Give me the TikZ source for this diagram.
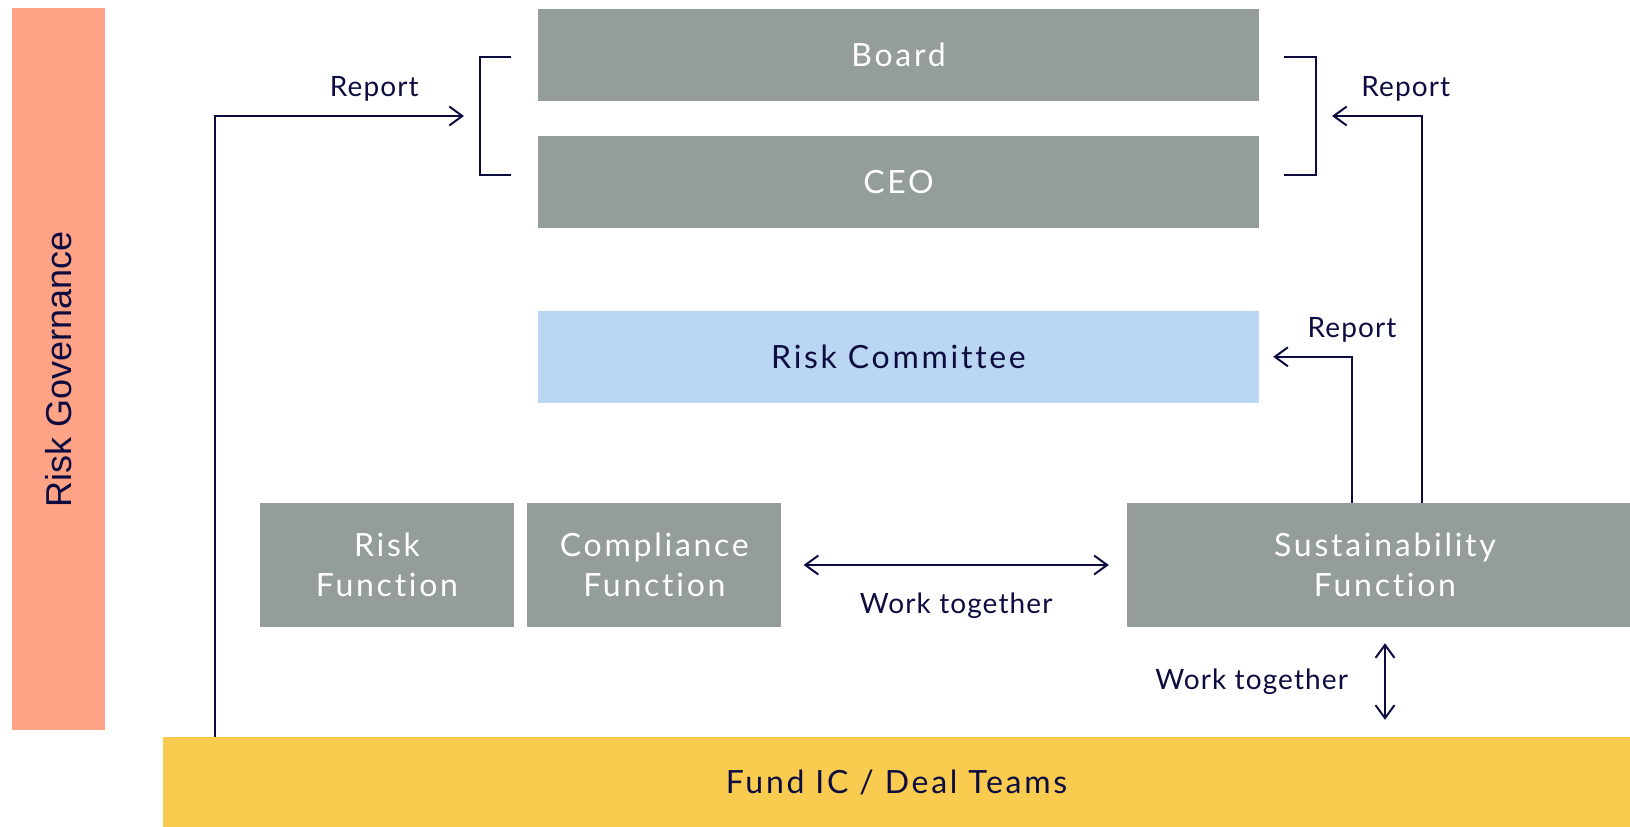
\documentclass[tikz,border=0pt]{standalone}
\usepackage{fontspec}
\setmainfont{Lato}
\newfontfamily\boxfont{Lato}[LetterSpace=8.5,Ligatures=CommonOff]
\newfontfamily\lblfont{Lato}[LetterSpace=4,Ligatures=CommonOff]
\newfontfamily\govfont{Liberation Sans}
\usetikzlibrary{arrows.meta,positioning}
\definecolor{boxgray}{HTML}{959D9A}
\definecolor{rcblue}{HTML}{BAD6F2}
\definecolor{govorange}{HTML}{FFA386}
\definecolor{fundyellow}{HTML}{F9CB4F}
\definecolor{navy}{HTML}{0C0C40}

\begin{document}
\begin{tikzpicture}[x=1pt, y=-1pt,
  every node/.style={font=\lblfont\fontsize{28}{32}\selectfont, text=navy},
  box/.style ={fill=boxgray, text=white, inner sep=0pt, align=center,
               minimum width=721pt, minimum height=92pt,
               font=\boxfont\fontsize{32}{39.5}\selectfont},
  fn/.style  ={box, minimum width=254pt, minimum height=124pt},
  rc/.style  ={box, fill=rcblue, text=navy},
  gov/.style ={fill=govorange, rotate=90, inner sep=0pt,
               minimum width=722pt, minimum height=93pt,
               font=\govfont\fontsize{36}{40}\selectfont},
  fund/.style={box, fill=fundyellow, text=navy, minimum width=1467pt, minimum height=90pt},
  ar/.style  ={-{Straight Barb[length=13pt,width=19pt]}, line width=2pt, draw=navy},
  dar/.style ={{Straight Barb[length=13pt,width=19pt]}-{Straight Barb[length=13pt,width=19pt]},
               line width=2pt, draw=navy},
  brk/.style ={line width=2pt, draw=navy},
  lbl/.style ={inner sep=0pt}
]
  \useasboundingbox (0,0) rectangle (1630,827);

  % side bar and the two stacked bodies
  \node[gov] (gov) at (58.5,369) {Risk Governance};
  \node[box] (board) at (898.5,54.5) {Board};
  \node[box, below=35.5pt of board] (ceo) {CEO};
  \node[rc, below=82pt of ceo] (riskcom) {Risk Committee};

  % functions row
  \node[fn] (riskfn) at (387,565) {Risk\\Function};
  \node[fn, right=13pt of riskfn] (compfn) {Compliance\\Function};
  \node[fn, minimum width=516pt] (sustfn) at (1385,565) {Sustainability\\Function};

  \node[fund] (fund) at (896.5,782) {Fund IC / Deal Teams};

  % brackets round board + CEO
  \draw[brk] (511,57) -- (480,57) -- (480,175) -- (511,175);
  \draw[brk] (1284,57) -- (1316,57) -- (1316,175) -- (1284,175);
  \coordinate (lin) at (464,116);
  \coordinate (rin) at (1332,116);

  % reporting lines
  \draw[ar] ([xshift=52pt]fund.north west) |- (lin)
    node[lbl, pos=0.82, above=14pt]{Report};
  \draw[ar] ([xshift=37pt]sustfn.north) |- (rin)
    node[lbl, pos=0.59, above=14pt]{Report};
  \draw[ar] ([xshift=-33pt]sustfn.north) |- ([xshift=14pt]riskcom.east)
    node[lbl, pos=0.5, above=14pt]{Report};

  % working relations
  \draw[dar] ([xshift=22pt]compfn.east) -- ([xshift=-18pt]sustfn.west)
    node[lbl, midway, below=27pt]{Work together};
  \coordinate (ftop) at (sustfn.south |- fund.north);
  \draw[dar] ([yshift=-16pt]sustfn.south) -- ([yshift=17pt]ftop)
    node[lbl, midway, left=36pt]{Work together};
\end{tikzpicture}
\end{document}
